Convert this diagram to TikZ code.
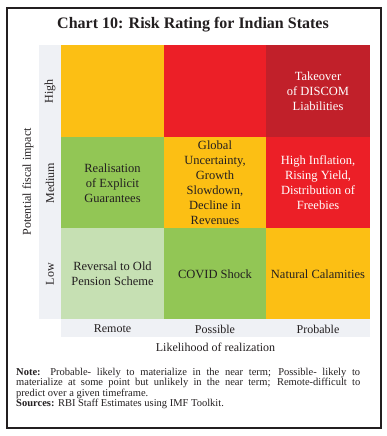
\documentclass[tikz,border=0pt]{standalone}
\usepackage{fontspec}
\setmainfont{Liberation Serif}
\definecolor{cyel}{HTML}{FCBF14}
\definecolor{cred}{HTML}{EC1F27}
\definecolor{cdred}{HTML}{C1202A}
\definecolor{cgrn}{HTML}{92C655}
\definecolor{clgrn}{HTML}{C6E0B3}
\definecolor{cgray}{HTML}{EFF1F5}
\definecolor{ctxt}{HTML}{231F20}
\begin{document}
\begin{tikzpicture}[x=1pt,y=-1pt,
  cell/.style={draw=none,inner sep=0pt,align=center,font=\fontsize{12.5}{15}\selectfont,text=ctxt},
  wcell/.style={cell,text=white},
  lab/.style={inner sep=0pt,font=\fontsize{12}{14}\selectfont,text=ctxt}]
\useasboundingbox (0,0) rectangle (387,436);
\fill[white] (0,0) rectangle (387,436);
\draw[line width=1.3pt,color=ctxt] (7,8) rectangle (381,428);
\node[lab,font=\bfseries\fontsize{16}{18}\selectfont] (title) at (193,25) {Chart 10: Risk Rating for Indian States};
% gray strips
\fill[cgray] (39,45) rectangle (61,319);
\fill[cgray] (61,319) rectangle (370,337);
% cells
\fill[cyel] (61,45) rectangle (164,137);
\fill[cred] (164,45) rectangle (266,137);
\fill[cdred] (266,45) rectangle (370,137);
\fill[cgrn] (61,137) rectangle (164,228);
\fill[cyel] (164,137) rectangle (266,228);
\fill[cred] (266,137) rectangle (370,228);
\fill[clgrn] (61,228) rectangle (164,319);
\fill[cgrn] (164,228) rectangle (266,319);
\fill[cyel] (266,228) rectangle (370,319);
% cell texts
\node[wcell] (c13) at (318,91) {Takeover\\of DISCOM\\Liabilities};
\node[cell] (c21) at (112.5,183) {Realisation\\of Explicit\\Guarantees};
\node[cell] (c22) at (215,183) {Global\\Uncertainty,\\Growth\\Slowdown,\\Decline in\\Revenues};
\node[wcell] (c23) at (318,183) {High Inflation,\\Rising Yield,\\Distribution of\\Freebies};
\node[cell] (c31) at (112.5,274) {Reversal to Old\\Pension Scheme};
\node[cell] (c32) at (215,274) {COVID Shock};
\node[cell] (c33) at (318,274) {Natural Calamities};
% axis labels
\node[lab,rotate=90] (high) at (50,91) {High};
\node[lab,rotate=90] (med) at (50,183) {Medium};
\node[lab,rotate=90] (low) at (50,274) {Low};
\node[lab] (remote) at (112.5,329) {Remote};
\node[lab] (possible) at (215,329) {Possible};
\node[lab] (probable) at (318,329) {Probable};
\node[lab,rotate=90] (yax) at (28,182) {Potential fiscal impact};
\node[lab] (xax) at (215.5,347) {Likelihood of realization};
% note
\node[anchor=north west,inner sep=0pt,text=ctxt] (note) at (16,368) {\parbox{344pt}{\fontsize{10.5}{10.3}\selectfont
\textbf{Note:} Probable- likely to materialize in the near term; Possible- likely to\linebreak
materialize at some point but unlikely in the near term; Remote-difficult to\linebreak
predict over a given timeframe.\\
\textbf{Sources:} RBI Staff Estimates using IMF Toolkit.}};
\end{tikzpicture}
\end{document}
